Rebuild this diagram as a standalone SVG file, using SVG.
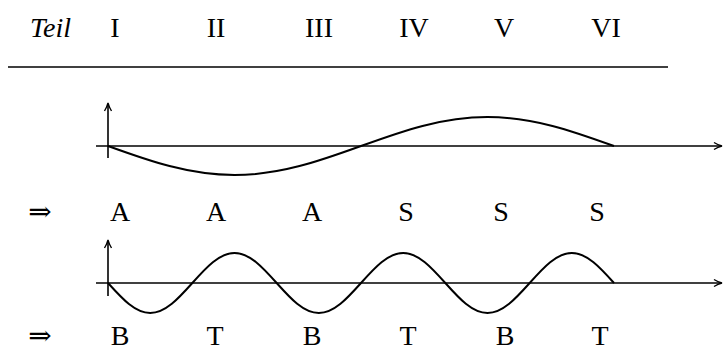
<svg xmlns="http://www.w3.org/2000/svg" width="723" height="352" viewBox="0 0 723 352" font-family="Liberation Serif, DejaVu Serif, serif">
<defs>
<style>
text{font-size:28px;fill:#000;text-anchor:middle}
.it{font-style:italic;text-anchor:start}
.ln{stroke:#000;stroke-width:1.6;fill:none}
.cv{stroke:#000;stroke-width:2;fill:none}
</style>
<marker id="ah" viewBox="0 0 10 10" refX="8" refY="5" markerWidth="10" markerHeight="10" markerUnits="userSpaceOnUse" orient="auto">
<path d="M1,1.5 Q5,4 9,5 Q5,6 1,8.5" fill="none" stroke="#000" stroke-width="1.4"/>
</marker>
</defs>
<g id="header">
<text class="it" x="30" y="37">Teil</text>
<text x="115" y="37">I</text>
<text x="216" y="37">II</text>
<text x="319" y="37">III</text>
<text x="414" y="37">IV</text>
<text x="504" y="37">V</text>
<text x="606" y="37">VI</text>
<line class="ln" x1="8" y1="67" x2="668" y2="67" stroke-width="2"/>
</g>
<g id="plot1">
<line class="ln" x1="96" y1="146" x2="721" y2="146" marker-end="url(#ah)"/>
<line class="ln" x1="108" y1="158" x2="108" y2="104" marker-end="url(#ah)"/>
<path class="cv" d="M108,146 C149.2,160.9 188.7,175 234.5,175 C280.3,175 319.8,160.9 361,146 C402.2,131.1 441.7,117 487.5,117 C533.3,117 572.8,131.1 614,146"/>
</g>
<g id="row1">
<text x="40" y="221">⇒</text>
<text x="120" y="221">A</text>
<text x="216" y="221">A</text>
<text x="312" y="221">A</text>
<text x="406" y="221">S</text>
<text x="501" y="221">S</text>
<text x="597" y="221">S</text>
</g>
<g id="plot2">
<line class="ln" x1="96" y1="283" x2="721" y2="283" marker-end="url(#ah)"/>
<line class="ln" x1="108" y1="296" x2="108" y2="241" marker-end="url(#ah)"/>
<path class="cv" d="M108,283 C121.92,298.37 134.9,313 150.17,313 C165.44,313 178.58,298.37 192.33,283 C206.08,267.63 219.23,253 234.5,253 C249.77,253 262.92,267.63 276.67,283 C290.42,298.37 303.56,313 318.83,313 C334.1,313 347.25,298.37 361,283 C374.75,267.63 387.9,253 403.17,253 C418.44,253 431.58,267.63 445.33,283 C459.08,298.37 472.23,313 487.5,313 C502.77,313 515.92,298.37 529.67,283 C543.42,267.63 556.56,253 571.83,253 C587.1,253 600.25,267.63 614,283"/>
</g>
<g id="row2">
<text x="40" y="345">⇒</text>
<text x="120" y="345">B</text>
<text x="215" y="345">T</text>
<text x="312" y="345">B</text>
<text x="408" y="345">T</text>
<text x="505" y="345">B</text>
<text x="600" y="345">T</text>
</g>
</svg>
